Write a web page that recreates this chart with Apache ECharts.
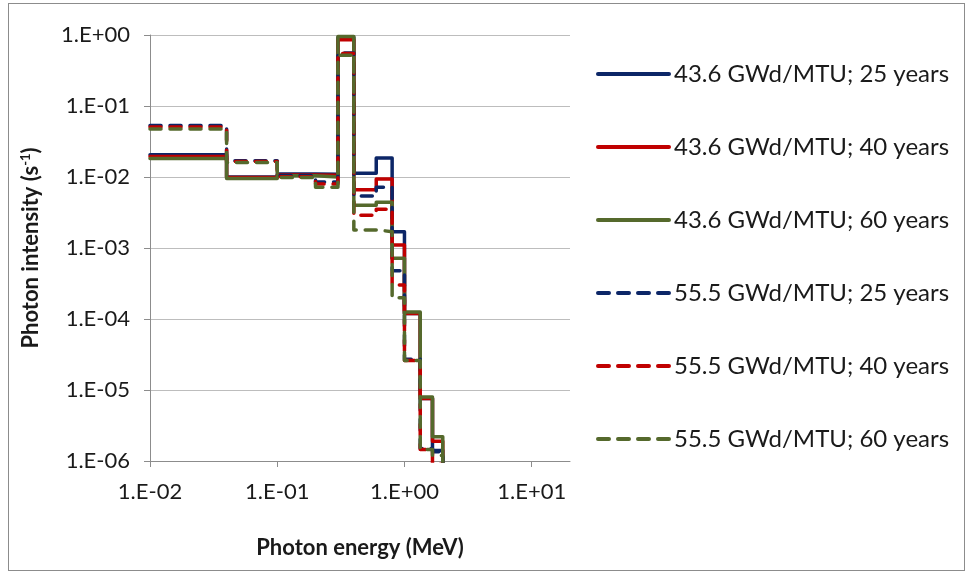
<!DOCTYPE html>
<html>
<head>
<meta charset="utf-8">
<script src="https://cdn.jsdelivr.net/npm/echarts@6/dist/echarts.min.js"></script>
<style>
  html, body { margin: 0; padding: 0; background: #fff; }
  #frame { position: absolute; left: 8px; top: 3px; width: 957px; height: 568px; border: 1px solid #8c8c8c; box-sizing: border-box; }
  #chart { position: absolute; left: 0; top: 0; width: 971px; height: 577px; }
</style>
</head>
<body>
<div id="frame"></div>
<div id="chart"></div>
<script>
// energy group boundaries (MeV)
const edges = [0.01, 0.04, 0.1, 0.2, 0.3, 0.4, 0.6, 0.8, 1.0, 1.33, 1.66, 2.0]
// value the last step drops to (below the axis range)
const tail = 1e-7

const names = [
  '43.6 GWd/MTU; 25 years',
  '43.6 GWd/MTU; 40 years',
  '43.6 GWd/MTU; 60 years',
  '55.5 GWd/MTU; 25 years',
  '55.5 GWd/MTU; 40 years',
  '55.5 GWd/MTU; 60 years'
]

// photon intensity per group (s^-1)
const b436y25 = [0.0205, 0.0100, 0.0110, 0.0109, 0.92, 0.0113, 0.0185, 0.0017, 1.2e-4, 7.6e-6, 1.4e-6]
const b436y40 = [0.0195, 0.0098, 0.0107, 0.0106, 0.86, 0.0066, 0.0094, 0.0011, 1.2e-4, 7.6e-6, 1.9e-6]
const b436y60 = [0.0182, 0.0095, 0.0104, 0.0100, 0.95, 0.0040, 0.0044, 0.00072, 1.25e-4, 8.0e-6, 2.2e-6]
const b555y25 = [0.0530, 0.0170, 0.0105, 0.0085, 0.56, 0.0054, 0.0072, 0.00048, 2.7e-5, 1.5e-6, 1.35e-6]
const b555y40 = [0.0507, 0.0165, 0.0101, 0.0080, 0.55, 0.0029, 0.0035, 0.00030, 2.6e-5, 1.45e-6, 9e-7]
const b555y60 = [0.0474, 0.0160, 0.0098, 0.0072, 0.52, 0.0018, 0.0017, 0.00020, 2.6e-5, 1.45e-6, 1.2e-6]

const xTicks = [0.01, 0.1, 1, 10]

const colors = ['#0c2667', '#c00000', '#55692c', '#0c2667', '#c00000', '#55692c']
const font = 'Lato'

function sci(v) {
  const e = Math.round(Math.log10(v))
  return '1.E' + (e < 0 ? '-' : '+') + String(Math.abs(e)).padStart(2, '0')
}

function steps(vals) {
  const pts = vals.map((v, i) => [edges[i], v])
  pts.push([edges[vals.length], tail])
  return pts
}

const allData = [b436y25, b436y40, b436y60, b555y25, b555y40, b555y60]

const series = allData.map((vals, i) => ({
  name: names[i],
  type: 'line',
  step: 'end',
  symbol: 'none',
  data: steps(vals),
  clip: true,
  lineStyle: {
    color: colors[i],
    width: 3.5,
    cap: 'round',
    join: 'round',
    type: i < 3 ? 'solid' : [11, 9]
  },
  itemStyle: { color: colors[i] }
}))

const chart = echarts.init(document.getElementById('chart'))
chart.setOption({
  animation: false,
  grid: { left: 150, top: 35, right: 401, bottom: 116 },
  legend: {
    orient: 'vertical',
    left: 591,
    top: 55,
    itemWidth: 71,
    itemHeight: 14,
    itemGap: 45,
    data: names,
    // hide the marker dot, keep the line sample
    itemStyle: { opacity: 0 },
    lineStyle: { width: 4 },
    textStyle: { fontFamily: font, fontSize: 24, color: '#1a1a1a', lineHeight: 28 }
  },
  xAxis: {
    type: 'log',
    min: 0.01,
    max: 20,
    name: 'Photon energy (MeV)',
    nameLocation: 'middle',
    nameGap: 76,
    nameTextStyle: { fontFamily: font, fontSize: 22, fontWeight: 'bold', color: '#1a1a1a' },
    axisLine: { lineStyle: { color: '#8c8c8c', width: 1 } },
    axisTick: { show: true, customValues: xTicks, length: 6, lineStyle: { color: '#8c8c8c' } },
    axisLabel: { customValues: xTicks, formatter: sci, fontFamily: font, fontSize: 22, color: '#1a1a1a', margin: 20 },
    splitLine: { show: false }
  },
  yAxis: {
    type: 'log',
    min: 1e-6,
    max: 1,
    name: 'Photon intensity (s{sup|-1})',
    nameLocation: 'middle',
    nameGap: 108,
    nameTextStyle: {
      fontFamily: font, fontSize: 22, fontWeight: 'bold', color: '#1a1a1a',
      rich: { sup: { fontFamily: font, fontSize: 13, fontWeight: 'bold', color: '#1a1a1a', verticalAlign: 'top', padding: [0, 0, 10, 0] } }
    },
    axisLine: { show: true, lineStyle: { color: '#8c8c8c', width: 1 } },
    axisTick: { show: true, length: 6, lineStyle: { color: '#8c8c8c' } },
    axisLabel: { formatter: sci, fontFamily: font, fontSize: 22, color: '#1a1a1a', margin: 20 },
    minorTick: { show: false },
    splitLine: { show: true, lineStyle: { color: '#bdbdbd', width: 1 } }
  },
  series: series
})
</script>
</body>
</html>
